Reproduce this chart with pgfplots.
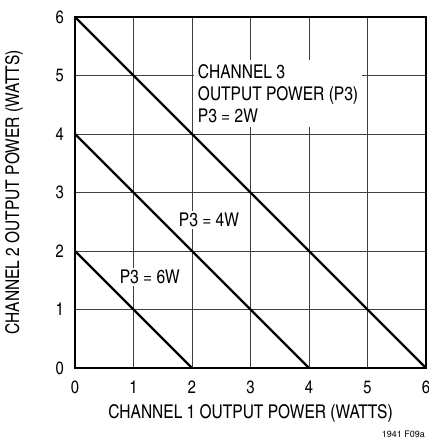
\documentclass[border=0pt]{standalone}
\usepackage{fontspec}
\setmainfont{TeX Gyre Heros Cn}
\newfontfamily\heros{TeX Gyre Heros}
\usepackage{pgfplots}
\pgfplotsset{compat=1.18}
\begin{document}
\begin{tikzpicture}
\begin{axis}[
  scale only axis, width=351bp, height=351bp,
  xmin=0, xmax=6, ymin=0, ymax=6,
  xtick={0,...,6}, ytick={0,...,6},
  major tick length=0pt,
  grid=major,
  major grid style={black!75, line width=0.6pt},
  axis line style={line width=1.3pt},
  /pgf/number format/assume math mode=true,
  ticklabel style={font=\fontsize{18}{20}\selectfont},
  xticklabel style={anchor=north, inner sep=0pt, yshift=-13bp, overlay},
  yticklabel style={anchor=east, inner sep=0pt, xshift=-11bp},
  label style={font=\fontsize{19}{21}\selectfont},
  xlabel={CHANNEL 1 OUTPUT POWER (WATTS)},
  ylabel={CHANNEL 2 OUTPUT POWER (WATTS)},
  xlabel style={at={(axis description cs:0.5,-0.1439)}, anchor=base, inner sep=0pt},
  ylabel style={at={(axis description cs:-0.1738,0.5)}, anchor=center, inner sep=0pt},
]
\addplot[black, line width=2.4pt] coordinates {(0,6) (6,0)};
\addplot[black, line width=2.4pt] coordinates {(0,4) (4,0)};
\addplot[black, line width=2.4pt] coordinates {(0,2) (2,0)};
\node[fill=white, inner sep=4bp, anchor=west, align=left, font=\fontsize{19}{22.5}\selectfont] at (axis cs:2.03,4.69) {CHANNEL 3\\OUTPUT POWER (P3)\\P3 = 2W};
\node[fill=white, inner sep=2bp, font=\fontsize{19}{21}\selectfont] at (axis cs:2.29,2.53) {P3 = 4W};
\node[fill=white, inner sep=2bp, font=\fontsize{19}{21}\selectfont] at (axis cs:1.28,1.556) {P3 = 6W};
\end{axis}
\node[anchor=base east, inner sep=0pt, font=\heros\fontsize{9}{10}\selectfont] at ([shift={(-1bp,-69.5bp)}]current axis.south east) {1941 F09a};
\path ([shift={(-75bp,-71bp)}]current axis.south west) -- ([shift={(3bp,17bp)}]current axis.north east);
\end{tikzpicture}
\end{document}
